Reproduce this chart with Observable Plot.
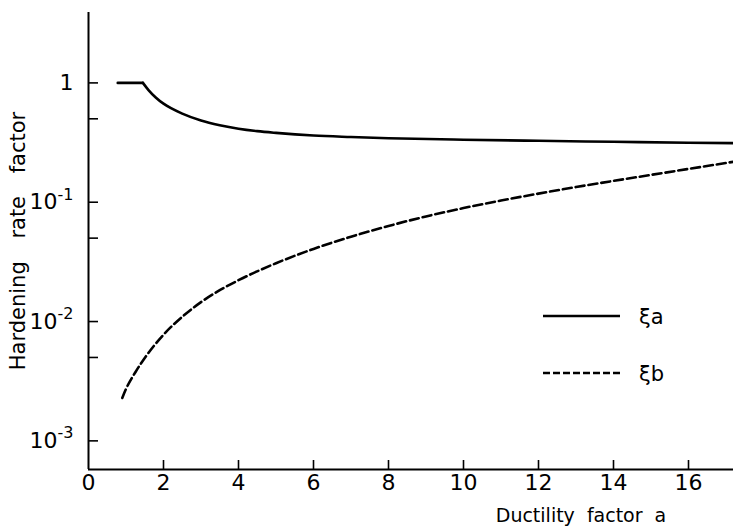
<!DOCTYPE html>
<html><head><meta charset="utf-8">
<script src="https://cdn.jsdelivr.net/npm/d3@7"></script>
<script src="https://cdn.jsdelivr.net/npm/@observablehq/plot@0.6"></script>
<style>
html,body{margin:0;padding:0;background:#fff;}
#wrap{position:relative;width:733px;height:532px;}
#legend{position:absolute;left:0;top:0;pointer-events:none;}
</style></head><body><div id="wrap"></div>
<script>
// ξa (solid)
const xiA_a = [0.78, 1.45, 1.6, 1.8, 2.0, 2.2, 2.5, 3.0, 3.5, 4.0, 4.5, 5, 6, 7, 8, 10, 12, 14, 16, 17.2];
const xiA   = [1, 1, 0.871, 0.751, 0.670, 0.614, 0.553, 0.484, 0.442, 0.413, 0.394, 0.381, 0.362, 0.352, 0.344, 0.334, 0.327, 0.321, 0.315, 0.313];
// ξb (dashed)
const xiB_a = [0.9, 1.0, 1.25, 1.5, 2.0, 2.5, 3.0, 3.5, 4, 5, 6, 7, 8, 9, 10, 11, 12, 13, 14, 15, 16, 17.2];
const xiB   = [0.00229, 0.00272, 0.00376, 0.00495, 0.00776, 0.01096, 0.01454, 0.0183, 0.0222, 0.0308, 0.0406, 0.0514, 0.0632, 0.0760, 0.0893, 0.1033, 0.1180, 0.1340, 0.1510, 0.1694, 0.1901, 0.2183];

const xTicks = [0, 2, 4, 6, 8, 10, 12, 14, 16];
const yMajorTicks = [0.001, 0.01, 0.1, 1];
const yMinorTicks = [0.005, 0.05, 0.5];
const yTickBase = ["10", "10", "10", "1"];
const yTickExp = ["-3", "-2", "-1", ""];
const seriesNames = ["ξa", "ξb"];
const xLabel = "Ductility factor a";
const yLabel = "Hardening rate factor";
const xDomain = [0, 17.2];
const yDomain = [Math.pow(10, -3.24), Math.pow(10, 0.59)];

const W = 733, H = 532, mL = 88, mR = 0, mT = 12, mB = 63;
const frameW = W - mL - mR, frameH = H - mT - mB;

const aRows = xiA_a.map((a, i) => ({a, v: xiA[i]}));
const flatRows = aRows.filter(d => d.a <= 1.45);
const curveRows = aRows.filter(d => d.a >= 1.45);
const bRows = xiB_a.map((a, i) => ({a, v: xiB[i]}));

const font = "DejaVu Sans";

const chart = Plot.plot({
  width: W, height: H,
  marginLeft: mL, marginRight: mR, marginTop: mT, marginBottom: mB,
  style: {fontFamily: font, fontSize: "22px", background: "white", color: "black", overflow: "visible"},
  x: {type: "linear", domain: xDomain},
  y: {type: "log", domain: yDomain},
  marks: [
    Plot.ruleX([0], {stroke: "black", strokeWidth: 2}),
    Plot.ruleY([yDomain[0]], {stroke: "black", strokeWidth: 2}),
    Plot.ruleX(xTicks.filter(d => d > 0), {x: d => d, insetTop: frameH - 9, stroke: "black", strokeWidth: 1.6}),
    Plot.ruleY(yMajorTicks.concat(yMinorTicks), {y: d => d, insetRight: frameW - 10, stroke: "black", strokeWidth: 1.6}),
    Plot.axisX({ticks: xTicks, tickSize: 0, tickPadding: 5, label: null, fontSize: 22,
      tickFormat: d => String(d)}),
    Plot.axisY({ticks: yMajorTicks, tickSize: 0, tickPadding: 15, label: null, fontSize: 22,
      tickFormat: d => { const i = yMajorTicks.indexOf(d); return yTickExp[i] ? yTickBase[i] + "|" + yTickExp[i] : yTickBase[i]; }}),
    Plot.line(flatRows, {x: "a", y: "v", stroke: "black", strokeWidth: 2.6}),
    Plot.line(curveRows, {x: "a", y: "v", stroke: "black", strokeWidth: 2.6, curve: "monotone-x"}),
    Plot.line(bRows, {x: "a", y: "v", stroke: "black", strokeWidth: 2.6, strokeDasharray: "9,4", curve: "monotone-x"}),
    Plot.text([yLabel], {frameAnchor: "left", textAnchor: "middle", rotate: -90, dx: -70, fontSize: 21, fill: "black"}),
    Plot.text([xLabel], {frameAnchor: "bottom", textAnchor: "middle", dx: 170, dy: 52, fontSize: 19, fill: "black"})
  ]
});

// superscripts on the y tick labels
chart.querySelectorAll("text").forEach(t => {
  const s = t.textContent;
  if (s.includes("|")) {
    const [b, e] = s.split("|");
    t.textContent = "";
    const ns = "http://www.w3.org/2000/svg";
    const t1 = document.createElementNS(ns, "tspan"); t1.textContent = b;
    const t2 = document.createElementNS(ns, "tspan"); t2.textContent = e;
    t2.setAttribute("dy", "-0.6em"); t2.setAttribute("font-size", "16");
    t.appendChild(t1); t.appendChild(t2);
  }
});
chart.querySelectorAll("text").forEach(t => {
  if (t.textContent === yLabel) t.style.wordSpacing = "16px";
  if (t.textContent === xLabel) t.style.wordSpacing = "6px";
});

const wrap = document.getElementById("wrap");
wrap.appendChild(chart);

// legend
const lg = document.createElementNS("http://www.w3.org/2000/svg", "svg");
lg.setAttribute("id", "legend"); lg.setAttribute("width", W); lg.setAttribute("height", H);
lg.innerHTML =
  `<line x1="543" x2="620" y1="316" y2="316" stroke="black" stroke-width="2.6"/>` +
  `<text x="639" y="324" font-family="${font}" font-size="21" fill="black">${seriesNames[0]}</text>` +
  `<line x1="543" x2="620" y1="373" y2="373" stroke="black" stroke-width="2.6" stroke-dasharray="7,3"/>` +
  `<text x="639" y="381" font-family="${font}" font-size="21" fill="black">${seriesNames[1]}</text>`;
wrap.appendChild(lg);
</script></body></html>
